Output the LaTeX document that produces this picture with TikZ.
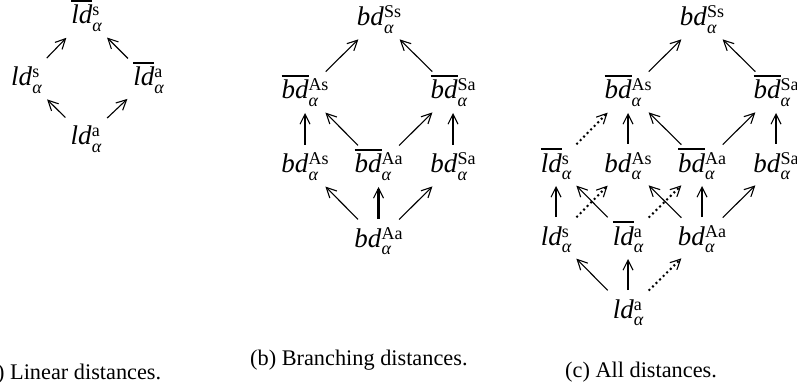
\documentclass[tikz,border=0pt]{standalone}
\usepackage{fontspec}
\setmainfont{Liberation Serif}
\usetikzlibrary{arrows.meta}
\newcommand\supsub[1]{{\fontsize{18}{18}\selectfont\setbox0=\hbox{\raisebox{8pt}{#1}}\setbox2=\hbox{\raisebox{-7.5pt}{\itshape α}}\ifdim\wd0>\wd2 \rlap{\box2}\box0\else\rlap{\box0}\box2\fi}}
\newcommand\dpl[2]{\textit{#1}\supsub{#2}}
\newcommand\dbr[2]{\vbox{\hrule height 2.7pt\kern 3pt\hbox{\itshape #1}}\supsub{#2}}
\newcommand\conn[3]{\draw[#1] ([yshift=7pt]#2.base) -- ([yshift=7pt]#3.base);}
\tikzset{
  lbl/.style={anchor=base, inner sep=0pt, font=\fontsize{27}{30}\selectfont},
  captxt/.style={anchor=base west, inner sep=0pt, font=\fontsize{22.3}{26}\selectfont},
  arrtip/.style={-{Straight Barb[length=10pt,width=10pt,line width=1.1pt]}},
  ar/.style={arrtip, line width=1.1pt, shorten <=29pt, shorten >=29pt},
  vr/.style={arrtip, line width=2.6pt, shorten <=21pt, shorten >=21pt},
  dr/.style={arrtip, line width=2pt, dash pattern=on 2pt off 3pt, shorten <=29pt, shorten >=29pt}
}
\begin{document}
\begin{tikzpicture}[x=1pt,y=-1pt]
\useasboundingbox (0,0) rectangle (797,390);
% (a)
\node[lbl] (a1) at (86.5,24) {\dbr{ld}{s}};
\node[lbl] (a2) at (26.5,86) {\dpl{ld}{s}};
\node[lbl] (a3) at (148.5,86) {\dbr{ld}{a}};
\node[lbl] (a4) at (86,145) {\dpl{ld}{a}};
\conn{ar}{a2}{a1}
\conn{ar}{a3}{a1}
\conn{ar}{a4}{a2}
\conn{ar}{a4}{a3}
% (b)
\node[lbl] (b1) at (379,26) {\dpl{bd}{Ss}};
\node[lbl] (b2) at (305,99) {\dbr{bd}{As}};
\node[lbl] (b3) at (453,99) {\dbr{bd}{Sa}};
\node[lbl] (b4) at (305,173) {\dpl{bd}{As}};
\node[lbl] (b5) at (378.5,173) {\dbr{bd}{Aa}};
\node[lbl] (b6) at (453,173) {\dpl{bd}{Sa}};
\node[lbl] (b7) at (378.5,247) {\dpl{bd}{Aa}};
\conn{ar}{b2}{b1}
\conn{ar}{b3}{b1}
\conn{vr}{b4}{b2}
\conn{ar}{b5}{b2}
\conn{ar}{b5}{b3}
\conn{vr}{b6}{b3}
\conn{ar}{b7}{b4}
\conn{vr}{b7}{b5}
\conn{ar}{b7}{b6}
% (c)
\node[lbl] (c1) at (702,26) {\dpl{bd}{Ss}};
\node[lbl] (c2) at (628,99) {\dbr{bd}{As}};
\node[lbl] (c3) at (776,99) {\dbr{bd}{Sa}};
\node[lbl] (c4) at (556,172) {\dbr{ld}{s}};
\node[lbl] (c5) at (628,172) {\dpl{bd}{As}};
\node[lbl] (c6) at (702,172) {\dbr{bd}{Aa}};
\node[lbl] (c7) at (776,172) {\dpl{bd}{Sa}};
\node[lbl] (c8) at (556,245) {\dpl{ld}{s}};
\node[lbl] (c9) at (628,245) {\dbr{ld}{a}};
\node[lbl] (c10) at (702,245) {\dpl{bd}{Aa}};
\node[lbl] (c11) at (628,318) {\dpl{ld}{a}};
\conn{ar}{c2}{c1}
\conn{ar}{c3}{c1}
\conn{dr}{c4}{c2}
\conn{vr}{c5}{c2}
\conn{ar}{c6}{c2}
\conn{ar}{c6}{c3}
\conn{vr}{c7}{c3}
\conn{vr}{c8}{c4}
\conn{dr}{c8}{c5}
\conn{ar}{c9}{c4}
\conn{dr}{c9}{c6}
\conn{ar}{c10}{c5}
\conn{vr}{c10}{c6}
\conn{ar}{c10}{c7}
\conn{ar}{c11}{c8}
\conn{vr}{c11}{c9}
\conn{dr}{c11}{c10}
% captions
\node[captxt] (capa) at (-20.4,379) {(a) Linear distances.};
\node[captxt] (capb) at (250,365) {(b) Branching distances.};
\node[captxt] (capc) at (565,377) {(c) All distances.};
\end{tikzpicture}
\end{document}
